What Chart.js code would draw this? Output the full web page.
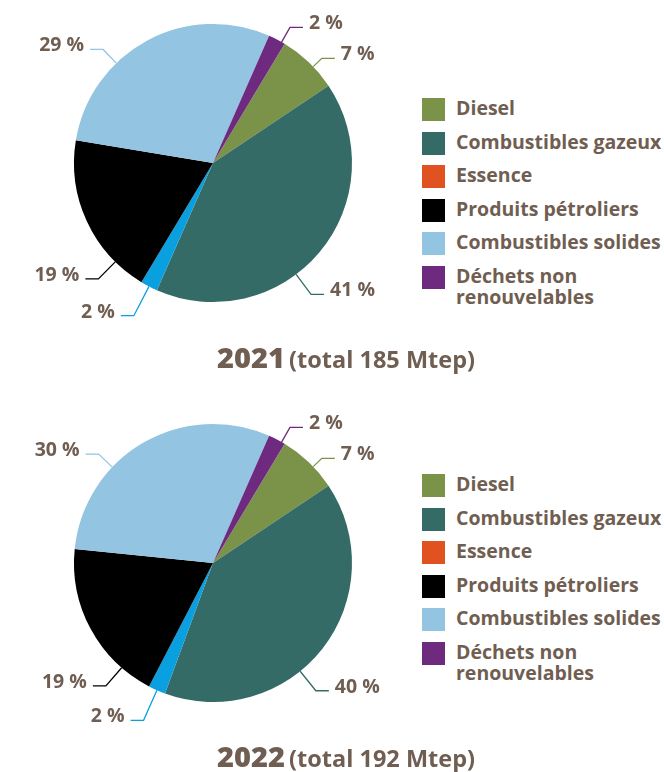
<!DOCTYPE html>
<html lang="fr">
<head>
<meta charset="utf-8">
<script src="https://cdn.jsdelivr.net/npm/chart.js@4/dist/chart.umd.min.js"></script>
<style>
  body { margin:0; width:664px; height:772px; overflow:hidden; background:#fff; position:relative;
         font-family:"Open Sans", sans-serif; color:#6f5e51; }
  .chart { position:absolute; left:0; }
  .legend { position:absolute; left:422px; }
  .legend .item { position:absolute; left:0; width:250px; }
  .legend .box { position:absolute; left:0; top:0; width:23px; height:23px; }
  .legend .txt { position:absolute; left:34px; top:-1px; font-weight:700; font-size:19.5px; line-height:21px; white-space:nowrap; }
  .title { position:absolute; left:14px; width:664px; text-align:center; font-weight:700; white-space:nowrap; }
  .title b { font-size:29px; }
  .title span { font-size:23.5px; }
</style>
</head>
<body>
<canvas id="pie2021" class="chart" width="420" height="340" style="top:0"></canvas>
<div id="leg2021" class="legend" style="top:98px"></div>
<div id="title2021" class="title" style="top:337px"></div>

<canvas id="pie2022" class="chart" width="420" height="340" style="top:400px"></canvas>
<div id="leg2022" class="legend" style="top:474px"></div>
<div id="title2022" class="title" style="top:736px"></div>

<script>
// data
const categories = ['Diesel', 'Combustibles gazeux', 'Essence', 'Produits pétroliers', 'Combustibles solides', 'Déchets non renouvelables'];
const values2021 = [7, 41, 2, 19, 29, 2];
const values2022 = [7, 40, 2, 19, 30, 2];
const totals = { 2021: 185, 2022: 192 };

// colours (the pie shows Essence in bright blue, the legend in orange)
const pieColors = ['#7b9349', '#356b66', '#0aa0e0', '#000000', '#93c4e1', '#6d2a7f'];
const legendColors = ['#7b9349', '#356b66', '#e0521f', '#000000', '#93c4e1', '#6d2a7f'];
const textColor = '#6f5e51';

// where the leader line leaves each slice (fraction of slice) and how far it goes out
const leader = [
    { frac: 0.6, ext: 12 },
    { frac: 0.59, ext: 25 },
    { frac: 0.5, ext: 33 },
    { frac: 0.2, ext: 24 },
    { frac: 0.35, ext: 19 },
    { frac: 0.8, ext: 17 }
];

// percent labels with leader lines
const pctLabels = {
    id: 'pctLabels',
    afterDatasetsDraw(chart) {
        const ctx = chart.ctx;
        const meta = chart.getDatasetMeta(0);
        const vals = chart.data.datasets[0].data;
        ctx.save();
        ctx.font = '700 19.5px "Open Sans"';
        ctx.textBaseline = 'alphabetic';
        meta.data.forEach((arc, i) => {
            const p = arc.getProps(['x', 'y', 'startAngle', 'endAngle', 'outerRadius'], true);
            const a = p.startAngle + leader[i].frac * (p.endAngle - p.startAngle);
            const r0 = p.outerRadius;
            const r1 = r0 + leader[i].ext;
            const x0 = p.x + Math.cos(a) * r0, y0 = p.y + Math.sin(a) * r0;
            const x1 = p.x + Math.cos(a) * r1, y1 = p.y + Math.sin(a) * r1;
            const side = Math.cos(a) >= 0 ? 1 : -1;
            const x2 = x1 + side * 13;
            ctx.strokeStyle = pieColors[i];
            ctx.lineWidth = 1.3;
            ctx.beginPath();
            ctx.moveTo(x0, y0);
            ctx.lineTo(x1, y1);
            ctx.lineTo(x2, y1);
            ctx.stroke();
            ctx.fillStyle = textColor;
            ctx.textAlign = side > 0 ? 'left' : 'right';
            ctx.fillText(vals[i] + '\u00a0%', x2 + side * 6, y1 + 2);
        });
        ctx.restore();
    }
};

function makePie(id, values) {
    new Chart(document.getElementById(id), {
        type: 'pie',
        data: {
            labels: categories,
            datasets: [{
                data: values,
                backgroundColor: pieColors,
                borderWidth: 0
            }]
        },
        options: {
            responsive: false,
            animation: false,
            rotation: 31,
            layout: { padding: { left: 74, right: 68, top: 24, bottom: 38 } },
            plugins: {
                legend: { display: false },
                tooltip: { enabled: false }
            }
        },
        plugins: [pctLabels]
    });
}

function makeLegend(id) {
    const el = document.getElementById(id);
    categories.forEach((c, i) => {
        const item = document.createElement('div');
        item.className = 'item';
        item.style.top = (i * 33.6) + 'px';
        const box = document.createElement('div');
        box.className = 'box';
        box.style.background = legendColors[i];
        const txt = document.createElement('div');
        txt.className = 'txt';
        txt.innerHTML = c === 'Déchets non renouvelables' ? 'Déchets non<br>renouvelables' : c;
        item.appendChild(box);
        item.appendChild(txt);
        el.appendChild(item);
    });
}

function makeTitle(id, year) {
    document.getElementById(id).innerHTML = '<b>' + year + '</b> <span>(total ' + totals[year] + ' Mtep)</span>';
}

makePie('pie2021', values2021);
makePie('pie2022', values2022);
makeLegend('leg2021');
makeLegend('leg2022');
makeTitle('title2021', 2021);
makeTitle('title2022', 2022);
</script>
</body>
</html>
